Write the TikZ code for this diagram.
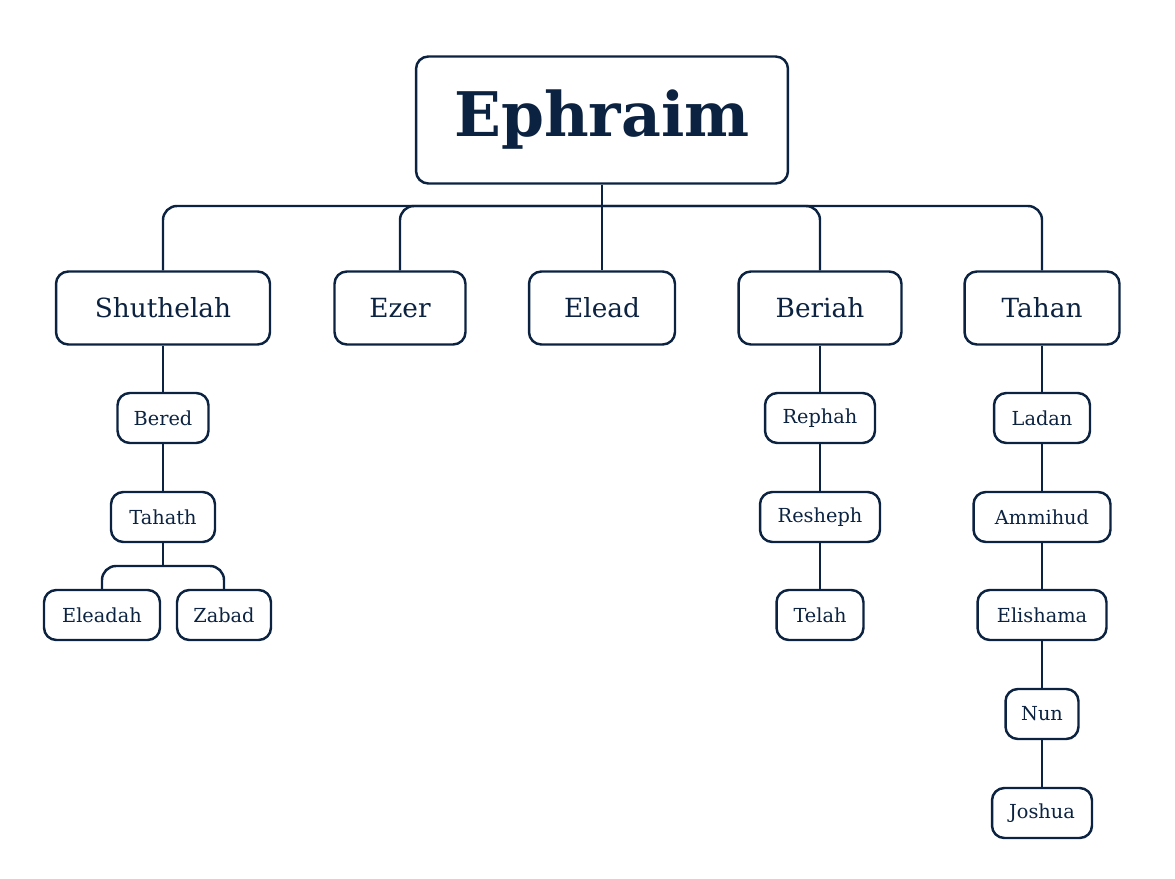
\documentclass[tikz,border=0pt]{standalone}
\usepackage{fontspec}
\setmainfont{DejaVu Serif}
\usepackage{tikz}
\definecolor{navy}{HTML}{0B2240}

\begin{document}
\begin{tikzpicture}[x=0.02cm,y=-0.02cm,line width=1.4pt,draw=navy,
  box/.style={draw=navy,rounded corners=7pt,align=center,text=navy,inner sep=0pt},
  big/.style={box,minimum height=1.46cm,font=\fontsize{15}{18}\selectfont},
  small/.style={box,minimum height=1cm,font=\fontsize{11}{13}\selectfont},
  link/.style={navy,rounded corners=8pt}]
\useasboundingbox (0,0) rectangle (1175,878);
% The root
\node[box,minimum width=7.44cm,minimum height=2.54cm,font=\fontsize{35}{40}\selectfont\bfseries] (ephraim) at (602,120) {Ephraim};
% The sons
\node[big,minimum width=4.28cm] (shuthelah) at (163,308) {Shuthelah};
\node[big,minimum width=2.62cm] (ezer) at (400,308) {Ezer};
\node[big,minimum width=2.92cm] (elead) at (602,308) {Elead};
\node[big,minimum width=3.26cm] (beriah) at (820,308) {Beriah};
\node[big,minimum width=3.10cm] (tahan) at (1042,308) {Tahan};
% Shuthelah's line
\node[small,minimum width=1.82cm] (bered) at (163,418) {Bered};
\node[small,minimum width=2.08cm] (tahath) at (163,517) {Tahath};
\node[small,minimum width=2.32cm] (eleadah) at (102,615) {Eleadah};
\node[small,minimum width=1.88cm] (zabad) at (224,615) {Zabad};
% Beriah's line
\node[small,minimum width=2.20cm] (rephah) at (820,418) {Rephah};
\node[small,minimum width=2.40cm] (resheph) at (820,517) {Resheph};
\node[small,minimum width=1.74cm] (telah) at (820,615) {Telah};
% Tahan's line
\node[small,minimum width=1.92cm] (ladan) at (1042,418) {Ladan};
\node[small,minimum width=2.74cm] (ammihud) at (1042,517) {Ammihud};
\node[small,minimum width=2.58cm] (elishama) at (1042,615) {Elishama};
\node[small,minimum width=1.46cm] (nun) at (1042,714) {Nun};
\node[small,minimum width=2.00cm] (joshua) at (1042,813) {Joshua};

% The links
\coordinate (bus) at (602,206);
\coordinate (fork) at (163,566);
\draw (ephraim.south) -- (elead.north);
\foreach \son in {shuthelah,ezer,beriah,tahan}
  \draw[link] (\son.north) |- (bus);
\foreach \a/\b in {shuthelah/bered,bered/tahath,beriah/rephah,rephah/resheph,
  resheph/telah,tahan/ladan,ladan/ammihud,ammihud/elishama,elishama/nun,nun/joshua}
  \draw (\a.south) -- (\b.north);
\draw (tahath.south) -- (fork);
\foreach \son in {eleadah,zabad}
  \draw[link] (\son.north) |- (fork);
\end{tikzpicture}
\end{document}
